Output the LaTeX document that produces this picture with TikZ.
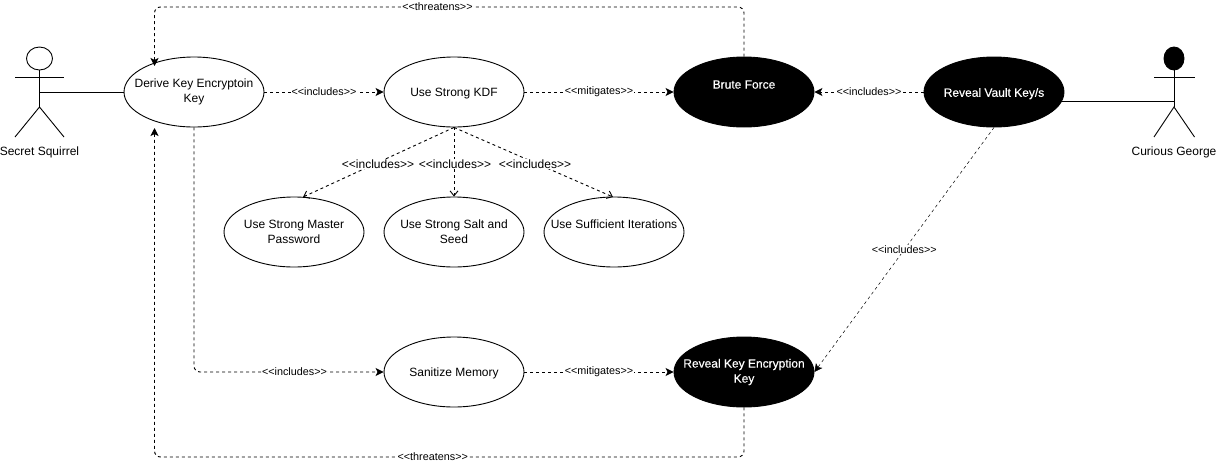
\documentclass[tikz,border=0pt]{standalone}
\usepackage{fontspec}
\setmainfont{Liberation Sans}
\newfontfamily\fakebold[FakeBold=0.3]{Liberation Sans}
\usetikzlibrary{arrows.meta,shapes.geometric}
\tikzset{
  uc/.style={draw=black,fill=white,ellipse,line width=0.9pt,inner sep=-40pt,minimum width=140pt,minimum height=70pt,align=center,text=black,font=\fontsize{12}{15}\selectfont,execute at begin node={\rule{0pt}{12pt}}},
  ucdark/.style={uc,fill=black,text=white,font=\fontsize{12}{15}\selectfont\fakebold},
  conn/.style={draw=black,line width=0.9pt,dash pattern=on 3pt off 3pt,-{Stealth[length=8pt,width=8pt,inset=2pt]}},
  openconn/.style={draw=black,line width=0.9pt,dash pattern=on 3pt off 3pt,-{Straight Barb[length=5pt,width=8pt]}},
  thinconn/.style={draw=black,line width=0.5pt,dash pattern=on 3pt off 3pt,-{Stealth[length=8pt,width=8pt,inset=2pt]}},
  plainline/.style={draw=black,line width=0.9pt},
  lbl/.style={fill=white,inner sep=0.5pt,text=black,font=\fontsize{10.8}{13}\selectfont},
  lblbig/.style={lbl,font=\fontsize{12}{14}\selectfont},
  actorname/.style={inner sep=0pt,text=black,font=\fontsize{12}{15}\selectfont},
}
\begin{document}
\begin{tikzpicture}[x=1pt,y=-1pt]
\useasboundingbox (0,0) rectangle (1217,466);
\fill[white] (0,0) rectangle (1217,466);
% use cases
\node[uc] (derive) at (194,92) {Derive Key Encryptoin\\Key};
\node[uc] (kdf) at (454,92) {Use Strong KDF};
\node[ucdark] (brute) at (744,92) {Brute Force\\\mbox{}};
\node[ucdark] (vault) at (994,92) {Reveal Vault Key/s};
\node[uc] (master) at (294,232) {Use Strong Master\\Password};
\node[uc] (salt) at (454,232) {Use Strong Salt and\\Seed};
\node[uc] (iter) at (614,232) {Use Sufficient Iterations\\\mbox{}};
\node[uc] (sanitize) at (454,372) {Sanitize Memory};
\node[ucdark] (revealkey) at (744,372) {Reveal Key Encryption\\Key};
% actors
\node[draw=black,fill=white,ellipse,line width=0.9pt,inner sep=0pt,minimum width=26pt,minimum height=23pt] (headA) at (39.5,58.5) {};
\coordinate (hipA) at (39.5,107);
\coordinate (armAl) at (15,77); \coordinate (armAr) at (64,77);
\coordinate (legAl) at (15,137); \coordinate (legAr) at (64,137);
\coordinate (midA) at (39.5,92);
\draw[plainline] (headA.south) -- (hipA);
\draw[plainline] (armAl) -- (armAr);
\draw[plainline] (legAl) -- (hipA) -- (legAr);
\node[actorname] (nameA) at (39.5,152) {Secret Squirrel};
\node[draw=black,fill=black,ellipse,line width=0.9pt,inner sep=0pt,minimum width=20pt,minimum height=23pt] (headB) at (1174,58.5) {};
\coordinate (hipB) at (1174,107);
\coordinate (armBl) at (1154,77); \coordinate (armBr) at (1194.5,77);
\coordinate (legBl) at (1154,137); \coordinate (legBr) at (1194.5,137);
\coordinate (midB) at (1174,101);
\coordinate (vaultout) at (1060,101);
\draw[plainline] (headB.south) -- (hipB);
\draw[plainline] (armBl) -- (armBr);
\draw[plainline] (legBl) -- (hipB) -- (legBr);
\node[actorname] (nameB) at (1174,152) {Curious George};
\draw[plainline] (midA) -- (derive.west);
\draw[plainline] (vaultout) -- (midB);
% horizontal connectors
\draw[conn] (derive.east) -- node[lbl,pos=0.5] (l1) {<{}<includes>{}>} (kdf.west);
\draw[conn] (kdf.east) -- node[lbl,pos=0.5] (l2) {<{}<mitigates>{}>} (brute.west);
\draw[conn] (vault.west) -- node[lbl,pos=0.5] (l3) {<{}<includes>{}>} (brute.east);
\draw[conn] (sanitize.east) -- node[lbl,pos=0.5] (l4) {<{}<mitigates>{}>} (revealkey.west);
% lower includes
\coordinate (lowbend) at (194,372);
\draw[conn,rounded corners=6pt] (derive.south) -- (lowbend) -- node[lbl,pos=0.53] (l5) {<{}<includes>{}>} (sanitize.west);
% fan
\coordinate (mastertip) at (303,197);
\coordinate (itertip) at (613,197);
\draw[openconn] (kdf.south) -- (mastertip);
\draw[openconn] (kdf.south) -- (salt.north);
\draw[openconn] (kdf.south) -- (itertip);
\node[lblbig] (l6) at (378,164) {<{}<includes>{}>};
\node[lblbig] (l7) at (455,164) {<{}<includes>{}>};
\node[lblbig] (l8) at (535,164) {<{}<includes>{}>};
% vault to key
\draw[thinconn] (vault.south) -- node[lbl,pos=0.5] (l9) {<{}<includes>{}>} (revealkey.east);
% threatens
\coordinate (tr) at (744,7); \coordinate (tl) at (154.5,7); \coordinate (ttip) at (154.5,66);
\draw[conn,rounded corners=6pt] (brute.north) -- (tr) -- node[lbl,pos=0.52] (l10) {<{}<threatens>{}>} (tl) -- (ttip);
\coordinate (br) at (744,457); \coordinate (bl) at (154.5,457); \coordinate (btip) at (154.5,128);
\draw[conn,rounded corners=6pt] (revealkey.south) -- (br) -- node[lbl,pos=0.528] (l11) {<{}<threatens>{}>} (bl) -- (btip);
\end{tikzpicture}
\end{document}
